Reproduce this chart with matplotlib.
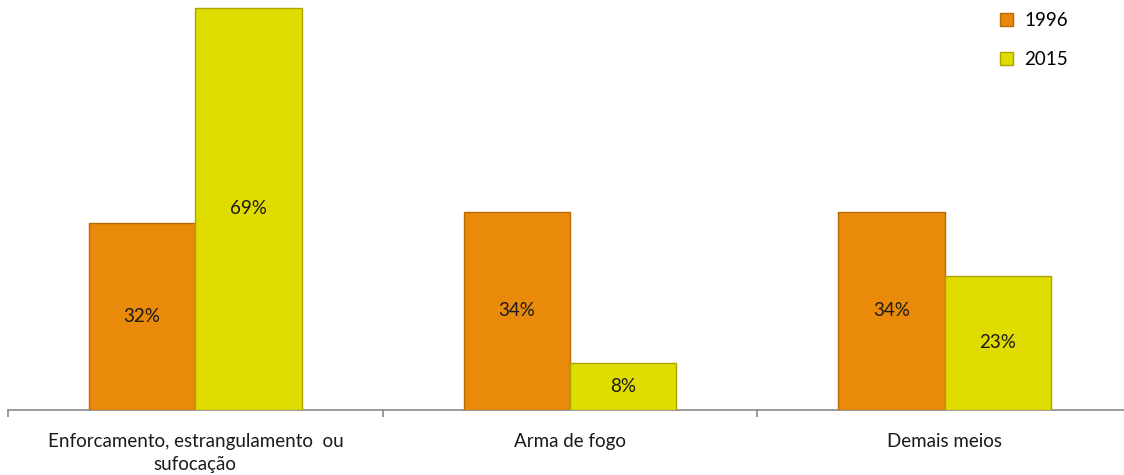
import matplotlib.pyplot as plt
import numpy as np

categories = ["Enforcamento, estrangulamento  ou\nsufocação", "Arma de fogo", "Demais meios"]
series_names = ["1996", "2015"]
values_1996 = [32, 34, 34]
values_2015 = [69, 8, 23]

colors = ["#E98A0A", "#E0DC00"]
edges = ["#B86A08", "#A8A400"]

plt.rcParams['font.family'] = ['Lato', 'DejaVu Sans']

fig = plt.figure(figsize=(11.24, 4.75), dpi=100)
ax = fig.add_axes([8/1124, 65/475, 1124/1124, 410/475])

x = np.arange(len(categories))
w = 0.284
for i, (vals, name) in enumerate(zip([values_1996, values_2015], series_names)):
    off = (i - 0.5) * w
    bars = ax.bar(x + off, vals, w, color=colors[i], edgecolor=edges[i], linewidth=1.0,
                  label=name, zorder=3)
    for b, v in zip(bars, vals):
        ax.text(b.get_x() + b.get_width()/2, v/2, f"{v}%", ha='center', va='center',
                fontsize=13.5, color='#1a1a1a', zorder=4)

ax.set_xlim(-0.5, 2.5)
ax.set_ylim(0, 70.3)
for s in ['top', 'right', 'left']:
    ax.spines[s].set_visible(False)
ax.spines['bottom'].set_color('#8a8a8a')
ax.spines['bottom'].set_linewidth(1.2)
ax.set_yticks([])
ax.set_xticks([-0.5, 0.5, 1.5, 2.5])
ax.set_xticklabels([])
ax.tick_params(axis='x', length=5, color='#8a8a8a', width=1.2)
for xi, c in zip(x, categories):
    ax.text(xi, -3.9, c, ha='center', va='top', fontsize=13.5, color='#1a1a1a',
            linespacing=1.42, clip_on=False)

leg = ax.legend(loc='upper right', bbox_to_anchor=(1072/1124, 1.0), frameon=False,
                fontsize=13.5, handlelength=0.7, handleheight=0.7, labelspacing=1.15,
                handletextpad=0.6, borderaxespad=0.25)
plt.savefig("out.png", dpi=100)
